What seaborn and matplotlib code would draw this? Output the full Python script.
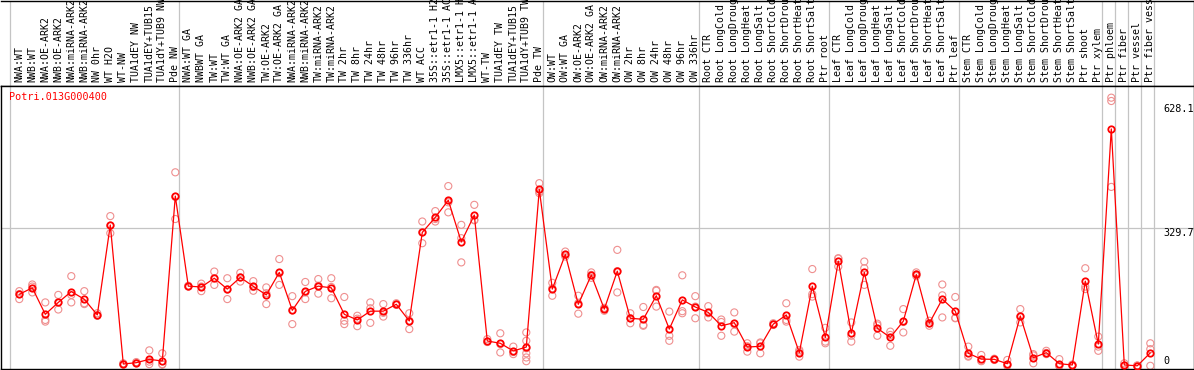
import numpy as np
import pandas as pd
import matplotlib
matplotlib.use("Agg")
import matplotlib.pyplot as plt
import matplotlib.transforms as mtrans
import seaborn as sns

title = "Potri.013G000400"

categories = [
    "NWA:WT", "NWB:WT", "NWA:OE-ARK2", "NWB:OE-ARK2", "NWA:miRNA-ARK2", "NWB:miRNA-ARK2",
    "NW 0hr", "WT H2O", "WT-NW", "TUA1dEY NW", "TUA1dEY+TUB15", "TUA1dY+TUB9 NW", "Pde NW",
    "NWA:WT GA", "NWBWT GA", "TW:WT", "TW:WT GA", "NWA:OE-ARK2 GA", "NWB:OE-ARK2 GA",
    "TW:OE-ARK2", "TW:OE-ARK2 GA", "NWA:miRNA-ARK2", "NWB:miRNA-ARK2", "TW:miRNA-ARK2",
    "TW:miRNA-ARK2", "TW 2hr", "TW 8hr", "TW 24hr", "TW 48hr", "TW 96hr", "TW 336hr",
    "WT ACC", "35S::etr1-1 H2", "35S::etr1-1 AC", "LMX5::etr1-1 H", "LMX5::etr1-1 A",
    "WT-TW", "TUA1dEY TW", "TUA1dEY+TUB15", "TUA1dY+TUB9 TW", "Pde TW",
    "OW:WT", "OW:WT GA", "OW:OE-ARK2", "OW:OE-ARK2 GA", "OW:miRNA-ARK2", "OW:miRNA-ARK2",
    "OW 2hr", "OW 8hr", "OW 24hr", "OW 48hr", "OW 96hr", "OW 336hr",
    "Root CTR", "Root LongCold", "Root LongDroug", "Root LongHeat", "Root LongSalt",
    "Root ShortCold", "Root ShortDrou", "Root ShortHeat", "Root ShortSalt", "Ptr root",
    "Leaf CTR", "Leaf LongCold", "Leaf LongDroug", "Leaf LongHeat", "Leaf LongSalt",
    "Leaf ShortCold", "Leaf ShortDrou", "Leaf ShortHeat", "Leaf ShortSalt", "Ptr leaf",
    "Stem CTR", "Stem LongCold", "Stem LongDroug", "Stem LongHeat", "Stem LongSalt",
    "Stem ShortCold", "Stem ShortDrou", "Stem ShortHeat", "Stem ShortSalt", "Ptr shoot",
    "Ptr xylem", "Ptr phloem", "Ptr fiber", "Ptr vessel", "Ptr fiber vess",
]

means = [
    171.5, 187, 123.5, 152, 178, 159.5, 122, 337.6, 4.3, 7.5, 15.5, 11.5, 407,
    191, 189, 210, 184, 212, 190.5, 170, 224, 133, 178.5, 191, 187, 123.5, 110, 131, 131,
    147.5, 107.5, 320, 356, 397, 297, 361.6, 59.5, 54, 35.5, 45, 423,
    184, 267, 147.5, 217.7, 136, 227, 114, 111.5, 168, 88, 158, 141,
    128, 96, 103.4, 45, 46.7, 100, 122, 31.5, 191, 68,
    251, 78, 224, 90, 68, 107, 219, 102, 160, 131,
    30, 16, 15.5, 5, 119.5, 19.5, 31.5, 5, 2, 203, 52,
    568, 2, 0, 31,
]

replicates = [
    [179, 160, 172], [195, 190, 176], [152, 110, 106], [170, 135, 152], [215, 170, 152],
    [179, 150, 148], [126, 120, 121], [359, 318, 336], [4, 3, 6], [7, 6, 9],
    [37, 4, 10], [30, 4, 3], [464, 352, 405],
    [192, 190, 191], [197, 179, 190], [226, 194, 210], [210, 160, 183], [223, 202, 212],
    [203, 180, 189], [188, 148, 174], [256, 194, 222], [167, 100, 133], [201, 160, 176],
    [208, 173, 192], [210, 162, 189], [165, 108, 100], [120, 95, 113], [152, 103, 138],
    [148, 118, 127], [150, 146, 147], [126, 88, 108], [346, 294, 320], [371, 346, 352],
    [431, 368, 392], [338, 248, 306], [386, 350, 349], [64, 57, 58], [78, 32, 52],
    [46, 28, 33], [80, 60, 42, 30, 20, 11], [438, 414, 418],
    [199, 168, 186], [274, 262, 266], [168, 125, 150], [224, 211, 218], [139, 132, 137],
    [278, 176, 227], [126, 102, 114], [141, 98, 96], [182, 142, 180], [130, 72, 60],
    [217, 126, 131], [167, 114, 142],
    [143, 116, 126], [111, 72, 105], [128, 82, 100], [54, 34, 47], [56, 30, 54],
    [102, 98, 100], [150, 106, 110], [38, 22, 34], [232, 172, 166], [91, 58, 54],
    [258, 238, 257], [104, 58, 72], [250, 194, 234], [101, 72, 97], [82, 48, 74],
    [136, 80, 105], [224, 215, 219], [108, 96, 102], [195, 116, 169], [165, 114, 115],
    [46, 22, 24], [26, 11, 12], [17, 14, 15], [14, 0, 2], [136, 104, 118],
    [28, 6, 25], [36, 28, 31], [16, 0, 0], [3, 1, 2], [234, 190, 184], [70, 46, 36],
    [643, 635, 429], [6, 0, 0], [0, 0, 1], [54, 40, 0],
]

group_breaks = [0, 13, 41, 53, 63, 73, 84, 85, 86, 87, 88]
y_tick_values = [628.1, 329.7, 0]
y_tick_labels = ["628.1", "329.7", "0"]

# ---------------------------------------------------------------
sns.set_theme(style="white")
plt.rcParams['font.family'] = ['DejaVu Sans Mono', 'DejaVu Sans']

W, H = 1194, 370
fig = plt.figure(figsize=(W / 100, H / 100), dpi=100)
fig.patch.set_facecolor("white")


def px_axes(x0, y0, x1, y1):
    return fig.add_axes([x0 / W, 1 - y1 / H, (x1 - x0) / W, (y1 - y0) / H])


C0, STEP = 19.3, 13.0          # pixel centre of first column, column pitch
Y0, SCALE = 365.8, 0.417       # pixel of value 0, pixels per unit

ax_lab = px_axes(0.5, 0.5, 1193.5, 85.5)
ax = px_axes(0.5, 85.5, 1193.5, 368.5)

for a in (ax_lab, ax):
    a.set_xlim((0.5 - C0) / STEP, (1193.5 - C0) / STEP)
    a.set_xticks([])
    a.set_yticks([])
    a.set_facecolor("white")
    for s in a.spines.values():
        s.set_color("black")
        s.set_linewidth(1.0)
    for b in group_breaks:
        a.axvline(b - (C0 - 10) / STEP, color="#c4c4c4", lw=0.9, zorder=0)

ax_lab.spines["left"].set_visible(False)
ax_lab.set_ylim(0, 85)
ax.set_ylim((Y0 - 368.5) / SCALE, (Y0 - 85.5) / SCALE)

# horizontal grid line
ax.axhline(329.7, color="#c4c4c4", lw=0.9, zorder=0)

# category labels (long ones run past the top edge, as in the reference)
for i, lab in enumerate(categories):
    ax_lab.text(i, 85 - 82, lab, rotation=90, ha="center", va="bottom",
                fontsize=7.1, color="black")

# replicate points
rows = [(i, v) for i, reps in enumerate(replicates) for v in reps]
df = pd.DataFrame(rows, columns=["idx", "value"])
sns.scatterplot(data=df, x="idx", y="value", ax=ax, marker="o",
                s=26, color="#ef8f8f", facecolor="none", edgecolor="#ef8f8f",
                linewidth=0.8, zorder=2, legend=False)

# mean line
mdf = pd.DataFrame({"idx": np.arange(len(means)), "value": means})
sns.lineplot(data=mdf, x="idx", y="value", ax=ax, estimator=None, sort=False,
             color="#ff0000", lw=0.9, marker="o", ms=4.6, mfc="none",
             mec="#ff0000", mew=1.3, zorder=3, legend=False)
ax.set_xlabel("")
ax.set_ylabel("")

# y labels on the right
trans = mtrans.blended_transform_factory(fig.transFigure, ax.transData)
for v, t in zip(y_tick_values, y_tick_labels):
    ax.text(1163 / W, v, t, transform=trans, ha="left",
            va="top" if v > 0 else "bottom", fontsize=7.3, color="black")

# title
fig.text(9.5 / W, 1 - 97.5 / H, title, color="#ff0000", ha="left", va="center",
         fontsize=7.3)

fig.savefig("out.png", dpi=100, facecolor="white")
